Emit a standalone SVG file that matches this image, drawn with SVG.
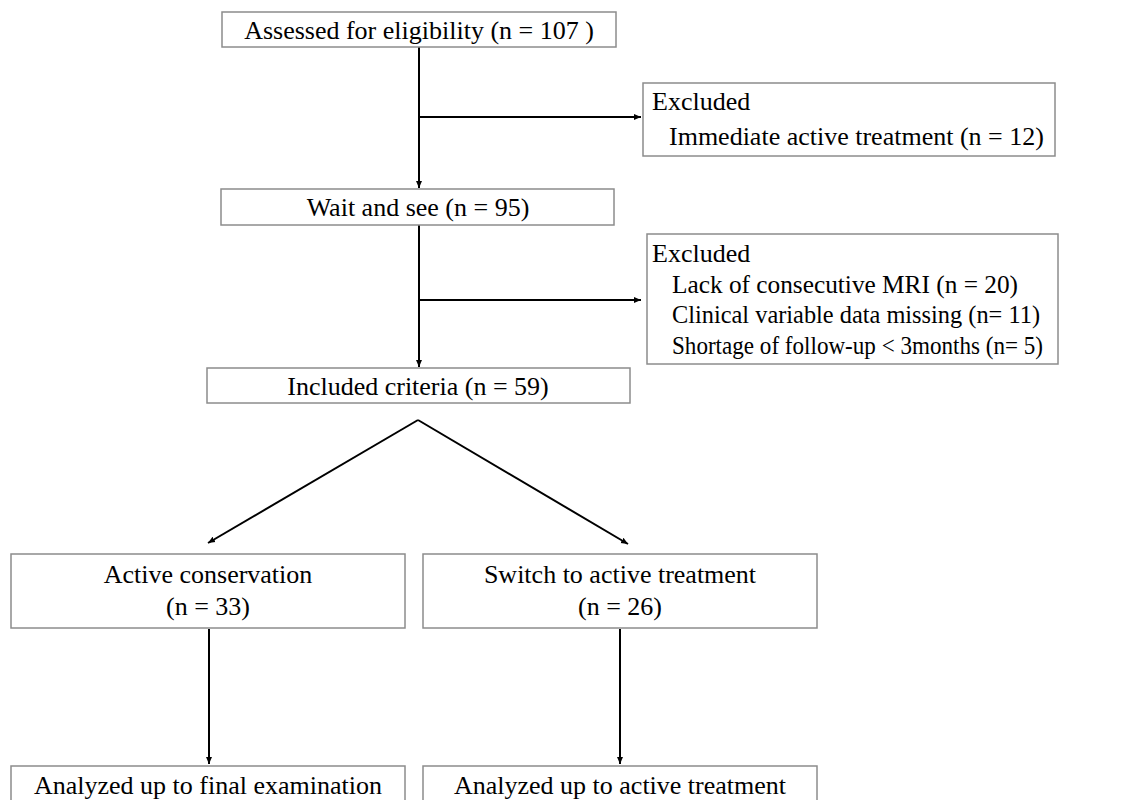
<svg xmlns="http://www.w3.org/2000/svg" width="1138" height="800" viewBox="0 0 1138 800">
<defs>
<marker id="ah" markerWidth="8" markerHeight="8" refX="7" refY="4" orient="auto" markerUnits="userSpaceOnUse">
<path d="M0,1 L7,4 L0,7 Z" fill="#000"/>
</marker>
<style>
.box{fill:#fff;stroke:#8c8c8c;stroke-width:1.5}
.t{font-family:"Liberation Serif","Times New Roman",serif;font-size:26px;fill:#000}
.c{text-anchor:middle}
.ln{stroke:#000;stroke-width:2;fill:none}
</style>
</defs>
<rect width="1138" height="800" fill="#fff"/>
<g id="connectors">
<line class="ln" x1="419" y1="47" x2="419" y2="188" marker-end="url(#ah)"/>
<line class="ln" x1="419" y1="117" x2="641" y2="117" marker-end="url(#ah)"/>
<line class="ln" x1="419" y1="225" x2="419" y2="367" marker-end="url(#ah)"/>
<line class="ln" x1="419" y1="300" x2="641" y2="300" marker-end="url(#ah)"/>
<line class="ln" x1="418" y1="420" x2="208" y2="543" marker-end="url(#ah)"/>
<line class="ln" x1="418" y1="420" x2="628" y2="544" marker-end="url(#ah)"/>
<line class="ln" x1="209" y1="629" x2="209" y2="764" marker-end="url(#ah)"/>
<line class="ln" x1="620" y1="629" x2="620" y2="764" marker-end="url(#ah)"/>
</g>
<g id="assessed">
<rect class="box" x="222" y="12" width="394" height="35"/>
<text class="t c" x="419" y="39">Assessed for eligibility (n = 107 )</text>
</g>
<g id="excluded1">
<rect class="box" x="643" y="83" width="412" height="73"/>
<text class="t" x="652" y="110">Excluded</text>
<text class="t" x="669" y="145">Immediate active treatment (n = 12)</text>
</g>
<g id="wait">
<rect class="box" x="221" y="189" width="393" height="36"/>
<text class="t c" x="418" y="216">Wait and see (n = 95)</text>
</g>
<g id="excluded2">
<rect class="box" x="647" y="234" width="411" height="130"/>
<text class="t" x="652" y="262">Excluded</text>
<text class="t" x="672" y="293" textLength="346" lengthAdjust="spacingAndGlyphs">Lack of consecutive MRI (n = 20)</text>
<text class="t" x="672" y="323" textLength="368" lengthAdjust="spacingAndGlyphs">Clinical variable data missing (n= 11)</text>
<text class="t" x="672" y="354" textLength="371" lengthAdjust="spacingAndGlyphs">Shortage of follow-up &lt; 3months (n= 5)</text>
</g>
<g id="included">
<rect class="box" x="207" y="368" width="423" height="35"/>
<text class="t c" x="418" y="395">Included criteria (n = 59)</text>
</g>
<g id="active">
<rect class="box" x="11" y="554" width="394" height="74"/>
<text class="t c" x="208" y="583">Active conservation</text>
<text class="t c" x="208" y="615">(n = 33)</text>
</g>
<g id="switch">
<rect class="box" x="423" y="554" width="394" height="74"/>
<text class="t c" x="620" y="583">Switch to active treatment</text>
<text class="t c" x="620" y="615">(n = 26)</text>
</g>
<g id="final">
<rect class="box" x="11" y="766" width="394" height="50"/>
<text class="t c" x="208" y="794">Analyzed up to final examination</text>
</g>
<g id="activetx">
<rect class="box" x="423" y="766" width="394" height="50"/>
<text class="t c" x="620" y="794">Analyzed up to active treatment</text>
</g>
</svg>
